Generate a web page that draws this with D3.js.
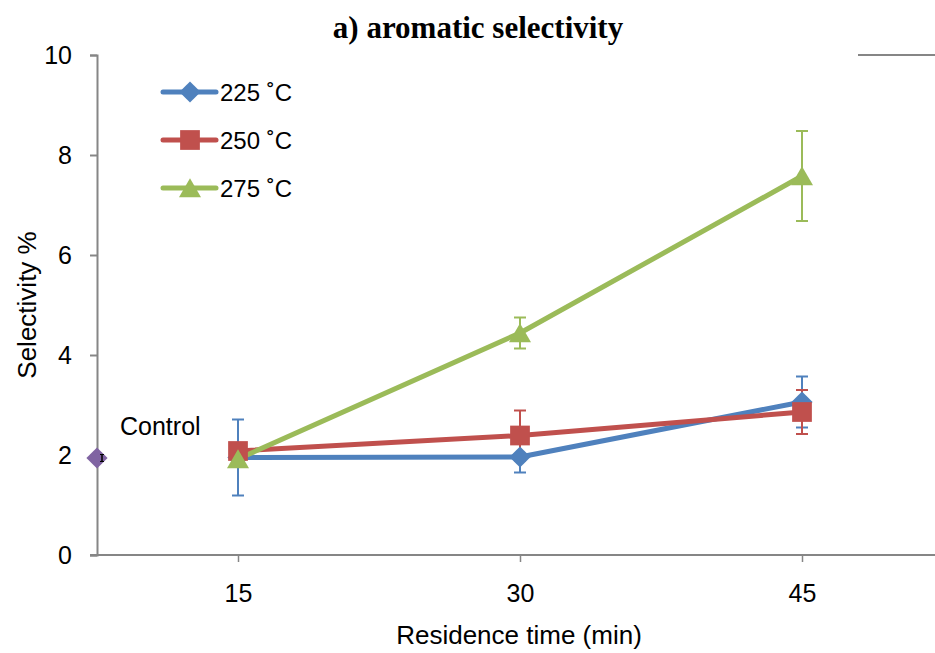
<!DOCTYPE html>
<html>
<head>
<meta charset="utf-8">
<script src="https://cdn.jsdelivr.net/npm/d3@7"></script>
<style>
  body { margin: 0; background: #fff; }
  svg text { font-family: "Liberation Sans", Arial, sans-serif; }
</style>
</head>
<body>
<div id="chart"></div>
<script>
// data
const times = [15, 30, 45];
const seriesNames = ["225 ˚C", "250 ˚C", "275 ˚C"];
const sel225 = [1.95, 1.96, 3.06];
const err225 = [0.76, 0.31, 0.51];
const sel250 = [2.08, 2.39, 2.86];
const err250 = [0.1, 0.5, 0.44];
const sel275 = [1.92, 4.44, 7.58];
const err275 = [0.1, 0.31, 0.9];
const controlTime = 7.5;
const controlValue = 1.94;
const controlErr = 0.07;
const yTicks = [0, 2, 4, 6, 8, 10];

const W = 935, H = 653;
const margin = { top: 55, right: -8, bottom: 98, left: 97 };
const width = W - margin.left - margin.right;
const height = H - margin.top - margin.bottom;

const colors = ["#4F81BD", "#C0504D", "#9BBB59"];
const axisColor = "#868686";

// marker shapes: diamond = rotated square
const markerPath = [
  d3.symbol().type(d3.symbolSquare).size(225)(),
  d3.symbol().type(d3.symbolSquare).size(390)(),
  d3.symbol().type(d3.symbolTriangle).size(210)()
];
const markerRotate = [45, 0, 0];
const markerShift = [0, 0, 3];

const series = [
  { name: seriesNames[0], values: sel225, errs: err225 },
  { name: seriesNames[1], values: sel250, errs: err250 },
  { name: seriesNames[2], values: sel275, errs: err275 }
];

const svg = d3.select("#chart").append("svg")
  .attr("width", W)
  .attr("height", H);

const g = svg.append("g")
  .attr("transform", `translate(${margin.left},${margin.top})`);

const x = d3.scaleLinear().domain([7.5, 52.5]).range([0, width]);
const y = d3.scaleLinear().domain([0, 10]).range([height, 0]);

// title
svg.append("text")
  .attr("x", 478)
  .attr("y", 38)
  .attr("text-anchor", "middle")
  .style("font-family", "'Liberation Serif', 'Times New Roman', serif")
  .style("font-size", "31px")
  .style("font-weight", "bold")
  .text("a) aromatic selectivity");

// top border stub at the right edge
g.append("line")
  .attr("x1", 858 - margin.left).attr("x2", width)
  .attr("y1", 0).attr("y2", 0)
  .attr("stroke", axisColor).attr("stroke-width", 2);

// y axis
const yAxis = g.append("g")
  .call(d3.axisLeft(y).tickValues(yTicks).tickSize(7).tickPadding(18));
yAxis.select(".domain").attr("stroke", axisColor).attr("stroke-width", 2);
yAxis.selectAll(".tick line").attr("stroke", axisColor).attr("stroke-width", 2);
yAxis.selectAll(".tick text")
  .attr("fill", "#000")
  .style("font-size", "25px");

// x axis
const xAxis = g.append("g")
  .attr("transform", `translate(0,${height})`)
  .call(d3.axisBottom(x).tickValues(times).tickSize(7).tickPadding(22).tickSizeOuter(0));
xAxis.select(".domain").attr("stroke", axisColor).attr("stroke-width", 2)
  .attr("d", `M-7,0H${width}`);
xAxis.selectAll(".tick line").attr("stroke", axisColor).attr("stroke-width", 1.5);
xAxis.selectAll(".tick text")
  .attr("fill", "#000")
  .style("font-size", "25px");

// axis titles
svg.append("text")
  .attr("x", 519)
  .attr("y", 644)
  .attr("text-anchor", "middle")
  .style("font-size", "26px")
  .text("Residence time (min)");

svg.append("text")
  .attr("transform", "translate(36,305) rotate(-90)")
  .attr("text-anchor", "middle")
  .style("font-size", "26px")
  .text("Selectivity %");

// error bars
series.forEach((s, i) => {
  const eg = g.append("g");
  times.forEach((t, j) => {
    const cx = x(t);
    const top = y(s.values[j] + s.errs[j]);
    const bot = y(s.values[j] - s.errs[j]);
    eg.append("line").attr("x1", cx).attr("x2", cx).attr("y1", top).attr("y2", bot)
      .attr("stroke", colors[i]).attr("stroke-width", 2);
    [top, bot].forEach(yy => {
      eg.append("line").attr("x1", cx - 6).attr("x2", cx + 6).attr("y1", yy).attr("y2", yy)
        .attr("stroke", colors[i]).attr("stroke-width", 2);
    });
  });
});

// lines and markers
const line = d3.line()
  .x((d, j) => x(times[j]))
  .y(d => y(d));

series.forEach((s, i) => {
  g.append("path")
    .datum(s.values)
    .attr("fill", "none")
    .attr("stroke", colors[i])
    .attr("stroke-width", 5)
    .attr("stroke-linejoin", "round")
    .attr("d", line);
});

series.forEach((s, i) => {
  g.selectAll(null)
    .data(s.values)
    .enter().append("path")
    .attr("transform", (d, j) => `translate(${x(times[j])},${y(d) + markerShift[i]}) rotate(${markerRotate[i]})`)
    .attr("d", markerPath[i])
    .attr("fill", colors[i]);
});

// control point
g.append("path")
  .attr("transform", `translate(${x(controlTime)},${y(controlValue)}) rotate(45)`)
  .attr("d", markerPath[0])
  .attr("fill", "#8064A2");
const cx0 = x(controlTime) + 5;
g.append("line")
  .attr("x1", cx0).attr("x2", cx0)
  .attr("y1", y(controlValue + controlErr)).attr("y2", y(controlValue - controlErr))
  .attr("stroke", "#000").attr("stroke-width", 1.5);
[controlValue + controlErr, controlValue - controlErr].forEach(v => {
  g.append("line")
    .attr("x1", cx0 - 2).attr("x2", cx0 + 2)
    .attr("y1", y(v)).attr("y2", y(v))
    .attr("stroke", "#000").attr("stroke-width", 1);
});
g.append("text")
  .attr("x", x(controlTime) + 23)
  .attr("y", y(controlValue) - 23)
  .style("font-size", "25px")
  .text("Control");

// legend
const legend = svg.append("g").attr("transform", "translate(163,92)");
series.forEach((s, i) => {
  const lg = legend.append("g").attr("transform", `translate(0,${i * 48})`);
  lg.append("line")
    .attr("x1", 0).attr("x2", 53)
    .attr("stroke", colors[i]).attr("stroke-width", 5)
    .attr("stroke-linecap", "round");
  lg.append("path")
    .attr("transform", `translate(27,${markerShift[i]}) rotate(${markerRotate[i]})`)
    .attr("d", markerPath[i])
    .attr("fill", colors[i]);
  lg.append("text")
    .attr("x", 57)
    .attr("y", 9)
    .style("font-size", "24px")
    .text(s.name);
});
</script>
</body>
</html>
